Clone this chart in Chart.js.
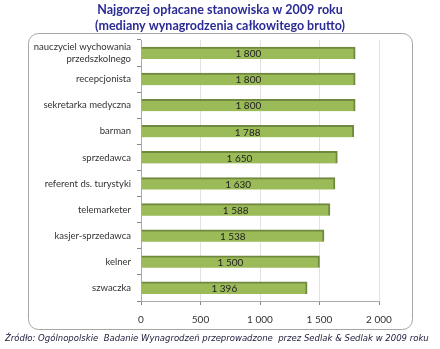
<!DOCTYPE html>
<html>
<head>
<meta charset="utf-8">
<script src="https://cdn.jsdelivr.net/npm/chart.js@4.4.1/dist/chart.umd.min.js"></script>
<style>
  html, body { margin: 0; padding: 0; background: #fff; }
  #wrap { position: relative; width: 440px; height: 349px; }
</style>
</head>
<body>
<div id="wrap"><canvas id="c" width="440" height="349"></canvas></div>
<script>
// Najgorzej opłacane stanowiska 2009 (Sedlak & Sedlak)
const categories = [
  ["nauczyciel wychowania", "przedszkolnego"],
  "recepcjonista",
  "sekretarka medyczna",
  "barman",
  "sprzedawca",
  "referent ds. turystyki",
  "telemarketer",
  "kasjer-sprzedawca",
  "kelner",
  "szwaczka"
];
const salaries = [1800, 1800, 1800, 1788, 1650, 1630, 1588, 1538, 1500, 1396];
const xTicks = [0, 500, 1000, 1500, 2000];

const titleLines = [
  "Najgorzej opłacane stanowiska w 2009 roku",
  "(mediany wynagrodzenia całkowitego brutto)"
];
const sourceText = "Źródło: Ogólnopolskie  Badanie Wynagrodzeń przeprowadzone  przez Sedlak & Sedlak w 2009 roku";

const fmt = (v) => String(v).replace(/\B(?=(\d{3})+(?!\d))/g, " ");

// pick the biggest font size that keeps text within width
const fitFont = (ctx, text, style, family, width, maxSize) => {
  let size = maxSize;
  while (size > 6) {
    ctx.font = `${style} ${size}px ${family}`;
    if (ctx.measureText(text).width <= width) break;
    size -= 0.25;
  }
};

// box, title, source, value labels
const decor = {
  id: "decor",
  beforeDraw(chart) {
    const ctx = chart.ctx;
    ctx.save();
    ctx.fillStyle = "#fff";
    ctx.fillRect(0, 0, chart.width, chart.height);
    ctx.beginPath();
    ctx.roundRect(28.5, 33.5, 384, 296, 10);
    ctx.strokeStyle = "#a6a6a6";
    ctx.lineWidth = 1;
    ctx.stroke();
    ctx.fillStyle = "#2b2b96";
    ctx.textAlign = "center";
    ctx.textBaseline = "middle";
    fitFont(ctx, titleLines[0], "bold", "Lato", 248, 15);
    ctx.fillText(titleLines[0], 220, 10);
    ctx.fillText(titleLines[1], 220, 26);
    ctx.fillStyle = "#1a1a3a";
    fitFont(ctx, sourceText, "italic", "'DejaVu Sans'", 428, 11);
    ctx.textAlign = "left";
    ctx.fillText(sourceText, 5, 339);
    ctx.restore();
  },
  afterDatasetsDraw(chart) {
    const ctx = chart.ctx;
    const meta = chart.getDatasetMeta(0);
    ctx.save();
    ctx.fillStyle = "#222";
    ctx.font = "10px Lato";
    ctx.textAlign = "center";
    ctx.textBaseline = "middle";
    meta.data.forEach((bar, i) => {
      const x = (bar.base + bar.x) / 2;
      ctx.fillText(fmt(salaries[i]), x, bar.y + 1);
    });
    ctx.restore();
  }
};

new Chart(document.getElementById("c"), {
  type: "bar",
  data: {
    labels: categories,
    datasets: [{
      data: salaries,
      backgroundColor: "#9bbb59",
      borderColor: "#71893f",
      borderWidth: { top: 2, right: 2, bottom: 0, left: 0 },
      borderSkipped: false,
      barThickness: 12
    }]
  },
  options: {
    indexAxis: "y",
    responsive: false,
    animation: false,
    layout: { padding: { left: 30, right: 61, top: 40, bottom: 14 } },
    plugins: {
      legend: { display: false },
      tooltip: { enabled: false }
    },
    scales: {
      x: {
        min: 0,
        max: 2000,
        afterBuildTicks: (s) => { s.ticks = xTicks.map((v) => ({ value: v })); },
        ticks: {
          color: "#333",
          font: { family: "Lato", size: 10 },
          padding: 9,
          callback: (v) => fmt(v)
        },
        grid: { color: "#e2e2e2", drawTicks: true, tickLength: 4, tickColor: "#888" },
        border: { color: "#aaa" }
      },
      y: {
        afterFit: (s) => { s.width = 111; },
        ticks: {
          autoSkip: false,
          color: "#333",
          font: { family: "Lato", size: 9.5 },
          padding: 6
        },
        grid: { drawOnChartArea: false, tickLength: 4, tickColor: "#888" },
        border: { color: "#aaa" }
      }
    }
  },
  plugins: [decor]
});
</script>
</body>
</html>
